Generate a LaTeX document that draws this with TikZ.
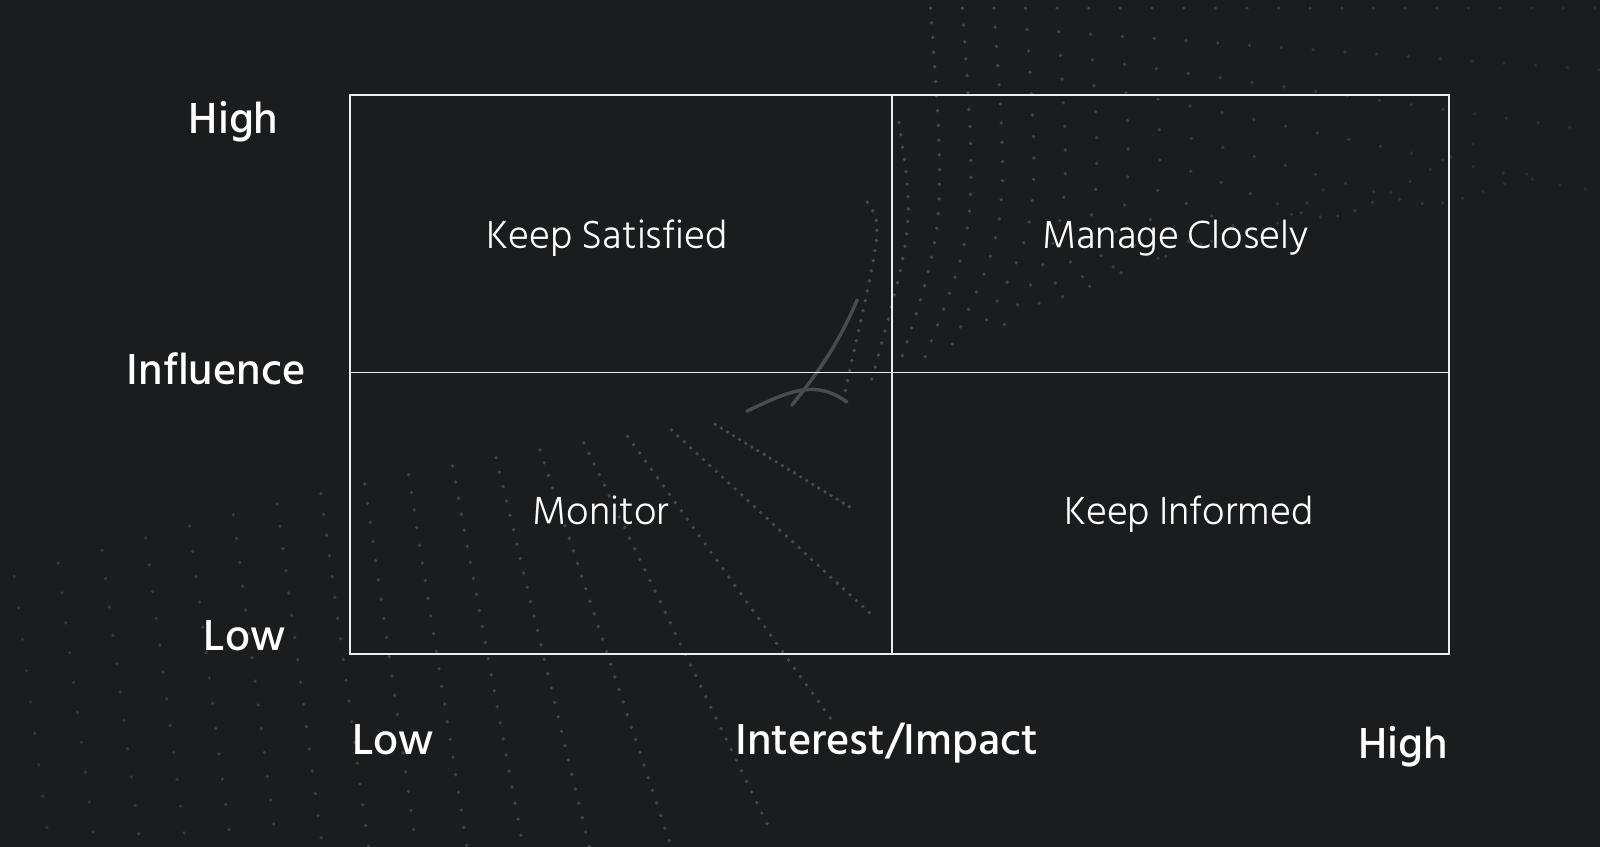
\documentclass[tikz,border=0pt]{standalone}
\usepackage{fontspec}
\IfFontExistsTF{Hind Siliguri Light}{\newfontfamily\quadfont{Hind Siliguri Light}}{\newfontfamily\quadfont{Hind Siliguri}}
\IfFontExistsTF{Hind Siliguri Medium}{\newfontfamily\axisfont{Hind Siliguri Medium}}{\newfontfamily\axisfont{Hind Siliguri}}
\definecolor{bgdark}{HTML}{1B1C1E}
\definecolor{dotgrey}{HTML}{4A4B4E}
\definecolor{gridwhite}{HTML}{EDEDED}
\begin{document}
\begin{tikzpicture}[x=0.025cm,y=-0.025cm,
  quad/.style={font=\quadfont\fontsize{28}{32}\selectfont,text=white,inner sep=0pt,anchor=base},
  axislabel/.style={font=\axisfont\fontsize{31}{34}\selectfont,text=white,inner sep=0pt,anchor=base},
  dotline/.style={dotgrey,line width=2.6pt,line cap=round}]
\useasboundingbox(0,0)rectangle(1568,830);
\clip(0,0)rectangle(1568,830);
\fill[bgdark](0,0)rectangle(1568,830);
% dotted waves, upper right
\foreach \i in {0,...,23}{
  \pgfmathsetmacro{\xt}{850+31*\i}
  \pgfmathsetmacro{\yt}{\i<2 ? 198-78*\i : 8}
  \pgfmathsetmacro{\xb}{828+26*\i}
  \pgfmathsetmacro{\yb}{384-11*\i}
  \pgfmathsetmacro{\gap}{(10+2.2*\i)*0.7113}
  \pgfmathsetmacro{\op}{1-\i/34}
  \draw[dotline,opacity=\op,dash pattern=on 0pt off \gap pt](\xt,\yt)..controls(\xt+15,220)..(\xb,\yb);
}
% dotted waves, lower left
\foreach \i in {0,...,16}{
  \pgfmathsetmacro{\t}{\i/16}
  \pgfmathsetmacro{\xt}{14+687*\t}
  \pgfmathsetmacro{\yt}{565-149*\t-65*\t*(1-\t)}
  \pgfmathsetmacro{\sl}{0.13+1.5*\t^7}
  \pgfmathsetmacro{\dy}{(830-\yt)*(1-max(0,\t-0.8)*4)}
  \pgfmathsetmacro{\gap}{(7+24*(1-\t))*0.7113}
  \pgfmathsetmacro{\op}{0.55+0.45*\t}
  \draw[dotline,opacity=\op,dash pattern=on 0pt off \gap pt](\xt,\yt)--++(\sl*\dy,\dy);
}
% two short arcs near the centre
\draw[dotline,line width=2.4pt](732,403)..controls(775,382)and(800,372)..(830,394);
\draw[dotline,line width=2.4pt](840,294)..controls(823,334)and(803,364)..(776,397);
% matrix
\coordinate(nw)at(343,93);
\coordinate(se)at(1420,641);
\coordinate(mid)at(874,365);
\draw[gridwhite,line width=1pt](nw)rectangle(se);
\draw[gridwhite,line width=1pt](nw-|mid)--(se-|mid);
\draw[gridwhite,line width=1pt](nw|-mid)--(se|-mid);
\node[quad](satisfied)at(595,244){Keep Satisfied};
\node[quad](closely)at(1152,244){Manage Closely};
\node[quad](monitor)at(589,514){Monitor};
\node[quad](informed)at(1165,514){Keep Informed};
\node[axislabel](inflhigh)at(229,131){High};
\node[axislabel](influence)at(212,377){Influence};
\node[axislabel](infllow)at(240,637){Low};
\node[axislabel,anchor=base west](intlow)at(345,739){Low};
\node[axislabel](interest)at(869,739){Interest/Impact};
\node[axislabel,anchor=base east](inthigh)at(1419,743){High};
\end{tikzpicture}
\end{document}
